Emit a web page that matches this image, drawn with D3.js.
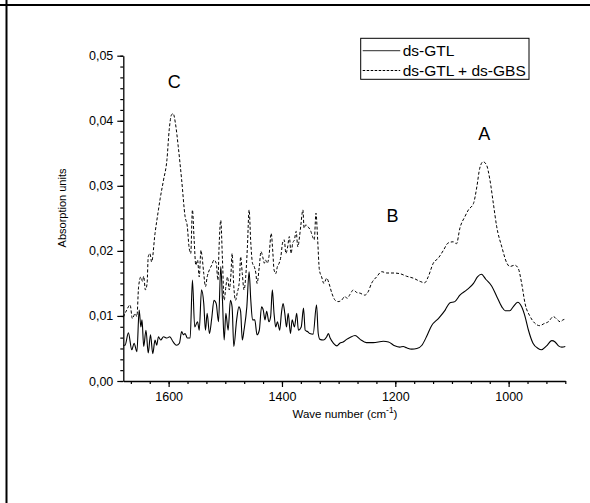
<!DOCTYPE html>
<html>
<head>
<meta charset="utf-8">
<script src="https://cdn.jsdelivr.net/npm/d3@7"></script>
<style>
    body { margin: 0; background: #fff; }
    text { font-family: "Liberation Sans", Arial, sans-serif; fill: #000; }
</style>
</head>
<body>
<div id="chart"></div>
<script>
// ds-GTL (solid line)
let gtlWave = [1680, 1677, 1671, 1665, 1661, 1656, 1652, 1649, 1647, 1644, 1640, 1636, 1632, 1628, 1624, 1621, 1618, 1614, 1609, 1603, 1598, 1592, 1586, 1581, 1577, 1574, 1571, 1567, 1562, 1558, 1554, 1549, 1546, 1542, 1538, 1535, 1532, 1528, 1524, 1520, 1516, 1512, 1508, 1505, 1502, 1499, 1495, 1491, 1488, 1485, 1480, 1476, 1473, 1470, 1467, 1462, 1458, 1455, 1452, 1448, 1444, 1440, 1436, 1433, 1430, 1427, 1423, 1420, 1417, 1414, 1411, 1408, 1404, 1401, 1398, 1395, 1392, 1389, 1385, 1382, 1378, 1374, 1371, 1366, 1362, 1359, 1355, 1351, 1345, 1339, 1336, 1333, 1327, 1321, 1318, 1315, 1309, 1303, 1298, 1292, 1286, 1280, 1271, 1262, 1251, 1239, 1221, 1212, 1201, 1192, 1186, 1180, 1171, 1162, 1153, 1145, 1136, 1124, 1112, 1104, 1095, 1086, 1074, 1062, 1055, 1048, 1040, 1030, 1021, 1012, 1006, 998, 992, 984, 977, 971, 965, 957, 948, 942, 933, 924, 918, 912, 906, 900]
let gtlAbs = [0.0055, 0.0055, 0.0074, 0.0048, 0.0058, 0.0045, 0.0109, 0.0083, 0.0094, 0.0053, 0.0078, 0.0043, 0.0071, 0.0042, 0.0063, 0.0055, 0.0068, 0.0063, 0.0068, 0.0066, 0.0068, 0.006, 0.0055, 0.0058, 0.0076, 0.0071, 0.0073, 0.0066, 0.0066, 0.0155, 0.0083, 0.0091, 0.0078, 0.014, 0.0119, 0.0078, 0.0104, 0.0073, 0.0096, 0.0124, 0.0119, 0.0091, 0.0176, 0.0124, 0.0063, 0.0104, 0.0078, 0.0124, 0.0114, 0.0053, 0.0094, 0.0114, 0.0107, 0.0063, 0.0078, 0.0114, 0.0168, 0.0124, 0.0094, 0.0094, 0.0071, 0.0078, 0.0114, 0.0109, 0.0094, 0.0107, 0.0091, 0.0099, 0.014, 0.0104, 0.0083, 0.0091, 0.0078, 0.0104, 0.0119, 0.0104, 0.0083, 0.0104, 0.0073, 0.0094, 0.0083, 0.0104, 0.0078, 0.0083, 0.0112, 0.0078, 0.0076, 0.0073, 0.0072, 0.0117, 0.0073, 0.0064, 0.0063, 0.0068, 0.0073, 0.0066, 0.0058, 0.0054, 0.0058, 0.006, 0.0064, 0.0067, 0.007, 0.0064, 0.0059, 0.0059, 0.0061, 0.006, 0.0054, 0.0052, 0.0053, 0.0051, 0.0049, 0.005, 0.0055, 0.0068, 0.0085, 0.0096, 0.0109, 0.012, 0.0122, 0.0132, 0.014, 0.015, 0.016, 0.0164, 0.0156, 0.0146, 0.013, 0.0114, 0.0108, 0.0108, 0.0114, 0.0121, 0.0114, 0.0099, 0.0078, 0.0058, 0.005, 0.0048, 0.0054, 0.0062, 0.006, 0.0054, 0.0052, 0.0053]

// ds-GTL + ds-GBS (dashed line)
let gbsWave = [1680, 1674, 1668, 1664, 1659, 1656, 1653, 1649, 1646, 1644, 1641, 1638, 1636, 1633, 1630, 1624, 1618, 1615, 1609, 1603, 1599, 1595, 1592, 1588, 1583, 1577, 1571, 1567, 1564, 1561, 1558, 1555, 1552, 1549, 1546, 1543, 1541, 1538, 1535, 1532, 1528, 1524, 1520, 1516, 1513, 1511, 1508, 1505, 1502, 1499, 1496, 1493, 1490, 1488, 1485, 1482, 1479, 1475, 1473, 1470, 1467, 1464, 1461, 1458, 1455, 1452, 1449, 1446, 1444, 1440, 1437, 1434, 1431, 1429, 1426, 1423, 1419, 1416, 1414, 1411, 1408, 1405, 1402, 1399, 1396, 1393, 1390, 1387, 1384, 1381, 1378, 1375, 1372, 1369, 1367, 1363, 1361, 1358, 1354, 1349, 1346, 1343, 1340, 1337, 1334, 1330, 1326, 1321, 1317, 1312, 1306, 1301, 1295, 1289, 1285, 1280, 1274, 1268, 1262, 1254, 1248, 1242, 1233, 1224, 1215, 1204, 1192, 1180, 1168, 1156, 1148, 1142, 1133, 1124, 1115, 1107, 1098, 1092, 1086, 1077, 1071, 1062, 1056, 1051, 1045, 1039, 1033, 1027, 1021, 1012, 1003, 998, 989, 983, 977, 971, 962, 954, 945, 938, 930, 921, 915, 909, 904, 900]
let gbsAbs = [0.0098, 0.0109, 0.0117, 0.0096, 0.0104, 0.0099, 0.0145, 0.016, 0.0153, 0.0161, 0.014, 0.015, 0.0191, 0.0196, 0.0183, 0.0227, 0.0263, 0.028, 0.0309, 0.034, 0.0386, 0.0409, 0.0411, 0.0396, 0.036, 0.0309, 0.0253, 0.0237, 0.0206, 0.0196, 0.0263, 0.0217, 0.0178, 0.0186, 0.016, 0.0201, 0.0191, 0.0165, 0.0145, 0.016, 0.0171, 0.0178, 0.0186, 0.0181, 0.0155, 0.0206, 0.0247, 0.0186, 0.0124, 0.0145, 0.016, 0.014, 0.0165, 0.0196, 0.0145, 0.0124, 0.0135, 0.0155, 0.0191, 0.0165, 0.014, 0.016, 0.0206, 0.0263, 0.0212, 0.0181, 0.0176, 0.0165, 0.015, 0.0176, 0.0199, 0.0191, 0.0181, 0.0186, 0.0181, 0.0191, 0.0227, 0.0196, 0.0171, 0.0165, 0.0176, 0.0181, 0.0191, 0.0212, 0.0217, 0.0196, 0.0206, 0.0222, 0.0196, 0.0212, 0.0217, 0.023, 0.0206, 0.0222, 0.0237, 0.0263, 0.0235, 0.024, 0.0237, 0.023, 0.0222, 0.0217, 0.0258, 0.0217, 0.0171, 0.016, 0.015, 0.0158, 0.015, 0.0135, 0.0124, 0.0122, 0.0124, 0.013, 0.0127, 0.0133, 0.014, 0.0136, 0.0135, 0.0132, 0.0137, 0.015, 0.016, 0.0168, 0.0166, 0.0166, 0.0165, 0.0161, 0.0158, 0.0153, 0.0151, 0.016, 0.0181, 0.0189, 0.0201, 0.0212, 0.0214, 0.0211, 0.0235, 0.0253, 0.0263, 0.0273, 0.0299, 0.0327, 0.0337, 0.0332, 0.0309, 0.0273, 0.0237, 0.0206, 0.0181, 0.0176, 0.0178, 0.0173, 0.015, 0.0119, 0.0099, 0.0089, 0.0085, 0.0088, 0.0091, 0.0099, 0.0095, 0.0091, 0.0094, 0.0095]

let seriesNames = ['ds-GTL', 'ds-GTL + ds-GBS']
let xTicks = [1600, 1400, 1200, 1000]
let yTicks = [0, 0.01, 0.02, 0.03, 0.04, 0.05]
let peakNames = ['C', 'B', 'A']
let peakWave = [1590, 1205, 1043]
let peakAbs = [0.045, 0.0244, 0.037]

let width = 590
let height = 503
let margin = {top: 55.7, right: 24.7, left: 123.3, bottom: 122}

let svg = d3.select('#chart').append('svg').attr('width', width).attr('height', height)

// outer frame (top + left only)
svg.append('line').attr('x1', 0).attr('x2', width).attr('y1', 5).attr('y2', 5).attr('stroke', '#000').attr('stroke-width', 2)
svg.append('line').attr('x1', 6.5).attr('x2', 6.5).attr('y1', 0).attr('y2', height).attr('stroke', '#000').attr('stroke-width', 2)

let x = d3.scaleLinear().domain([1680, 900]).range([margin.left, width - margin.right])
let y = d3.scaleLinear().domain([0, 0.05]).range([height - margin.bottom, margin.top])

let fmt = d => d3.format('.2f')(d).replace('.', ',')

// minor ticks (5 between majors)
let xMinor = d3.range(0, 25).map(i => 900 + i * 200 / 6).filter(v => v >= 900 && v <= 1680)
let yMinor = d3.range(0, 31).map(i => i * 0.01 / 6)

svg.append('g').attr('transform', 'translate(0,' + y(0) + ')')
    .call(d3.axisBottom(x).tickValues(xMinor).tickSize(3).tickFormat(''))
    .call(g => g.select('.domain').remove())
svg.append('g').attr('transform', 'translate(' + x(1680) + ',0)')
    .call(d3.axisLeft(y).tickValues(yMinor).tickSize(3).tickFormat(''))
    .call(g => g.select('.domain').remove())

svg.append('g').attr('transform', 'translate(0,' + y(0) + ')')
    .call(d3.axisBottom(x).tickValues(xTicks).tickSize(6).tickPadding(5).tickSizeOuter(0).tickFormat(d3.format('d')))
svg.append('g').attr('transform', 'translate(' + x(1680) + ',0)')
    .call(d3.axisLeft(y).tickValues(yTicks).tickSize(6).tickPadding(4).tickFormat(fmt).tickSizeOuter(0))

svg.selectAll('.tick line').attr('stroke', '#000').attr('stroke-width', 1.2)
svg.selectAll('.domain').attr('stroke', '#000').attr('stroke-width', 1.3)
svg.selectAll('.tick text').style('font-size', '12.5px').style('font-family', '"Liberation Sans", Arial, sans-serif')

let gtlData = gtlWave.map((w, i) => ({w: w, a: gtlAbs[i]}))
let gbsData = gbsWave.map((w, i) => ({w: w, a: gbsAbs[i]}))

let line = d3.line().x(d => x(d.w)).y(d => y(d.a)).curve(d3.curveMonotoneX)

svg.append('path').datum(gbsData).attr('d', line).attr('fill', 'none')
    .attr('stroke', '#000').attr('stroke-width', 1).attr('stroke-dasharray', '3,2')
svg.append('path').datum(gtlData).attr('d', line).attr('fill', 'none')
    .attr('stroke', '#000').attr('stroke-width', 1.1)

// peak letters
peakNames.forEach((p, i) => {
    svg.append('text').attr('x', x(peakWave[i])).attr('y', y(peakAbs[i]))
        .attr('text-anchor', 'middle').style('font-size', '18px').text(p)
})

// axis labels
svg.append('text').attr('transform', 'translate(66,' + 208 + ') rotate(-90)')
    .attr('text-anchor', 'middle').style('font-size', '11px').text('Absorption units')
let xl = svg.append('text').attr('x', 345).attr('y', 418).attr('text-anchor', 'middle').style('font-size', '11.5px')
xl.append('tspan').text('Wave number (cm')
xl.append('tspan').attr('dy', -5).style('font-size', '8.5px').text('-1')
xl.append('tspan').attr('dy', 5).text(')')

// legend
let legend = svg.append('g').attr('transform', 'translate(360.7,38.3)')
legend.append('rect').attr('width', 168.3).attr('height', 41).attr('fill', '#fff').attr('stroke', '#000').attr('stroke-width', 1)
let dashes = [null, '2.5,1.5']
let rows = [12.4, 32.2]
seriesNames.forEach((s, i) => {
    legend.append('line').attr('x1', 2).attr('x2', 39.5).attr('y1', rows[i]).attr('y2', rows[i])
        .attr('stroke', i === 0 ? '#555' : '#000').attr('stroke-width', i === 0 ? 1.3 : 1).attr('stroke-dasharray', dashes[i])
    legend.append('text').attr('x', 42).attr('y', rows[i] + 5.4).style('font-size', '15.5px').text(s)
})
</script>
</body>
</html>
